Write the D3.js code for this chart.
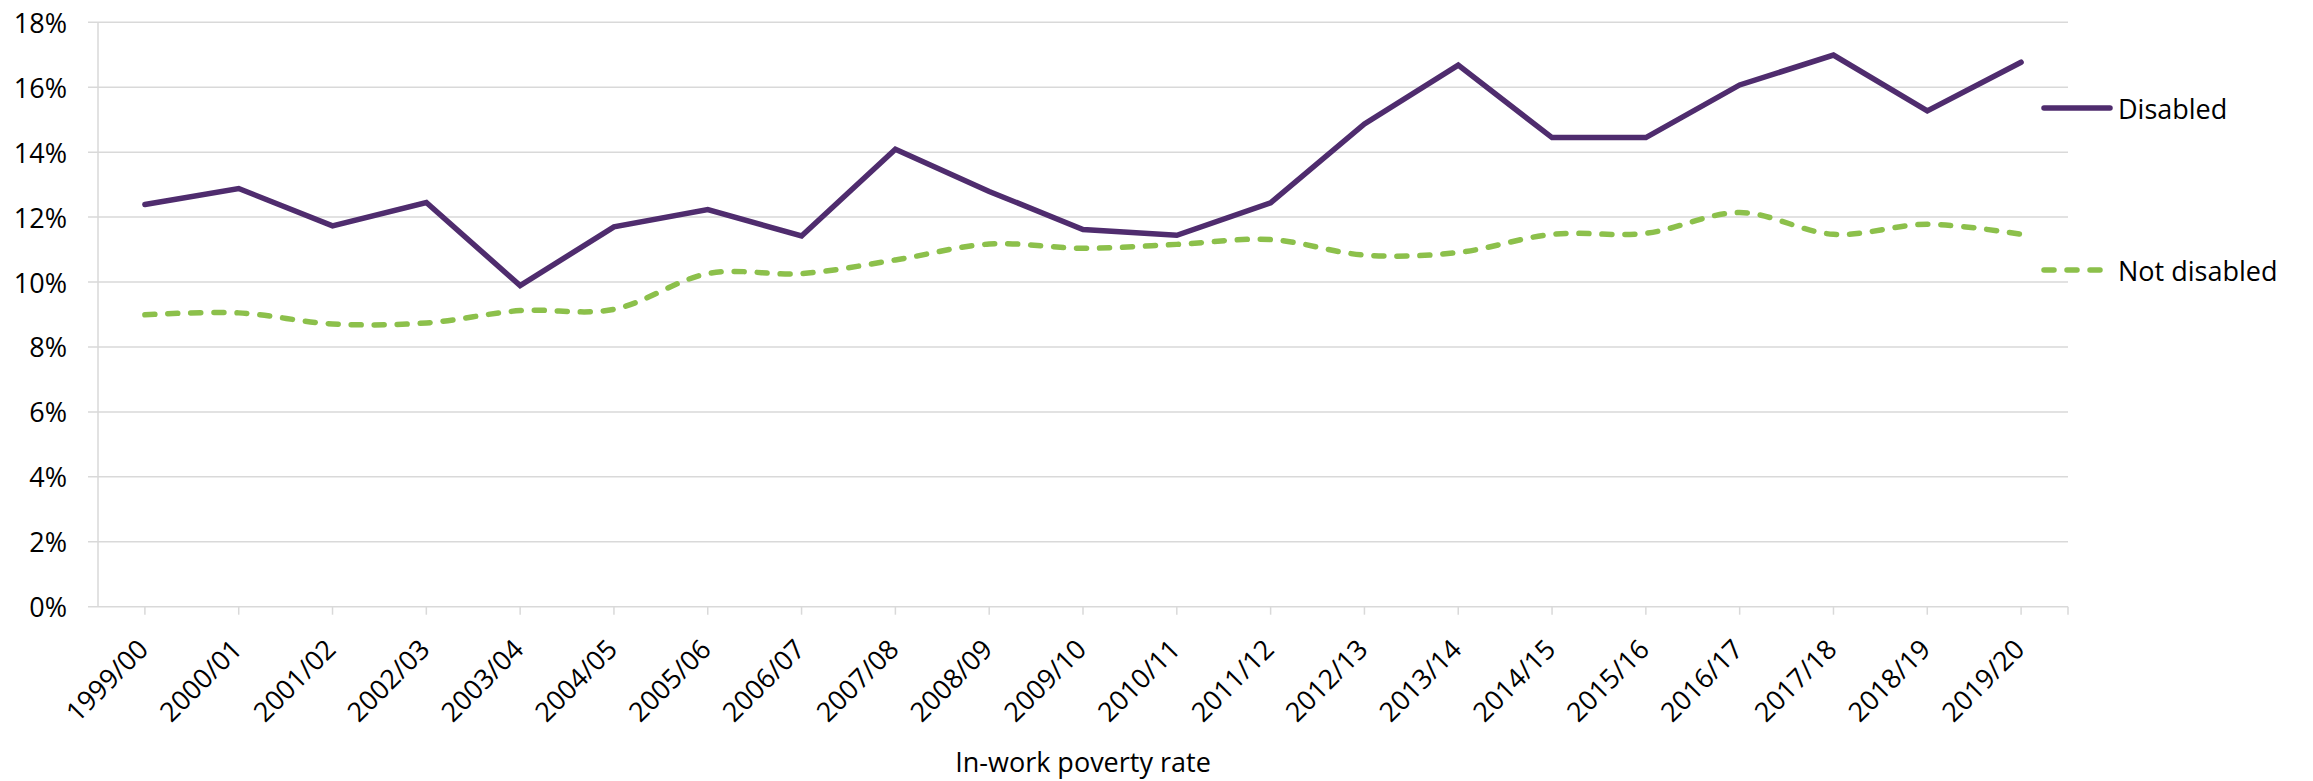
<!DOCTYPE html>
<html>
<head>
<meta charset="utf-8">
<script src="https://cdn.jsdelivr.net/npm/d3@7"></script>
<style>
  html, body { margin: 0; padding: 0; background: #fff; }
  svg text { font-family: "Open Sans", sans-serif; fill: #000; }
</style>
</head>
<body>
<svg id="chart" width="2313" height="781"></svg>
<script>
const categories = ["1999/00","2000/01","2001/02","2002/03","2003/04","2004/05","2005/06","2006/07","2007/08","2008/09","2009/10","2010/11","2011/12","2012/13","2013/14","2014/15","2015/16","2016/17","2017/18","2018/19","2019/20"];
const disabled = [12.39, 12.88, 11.73, 12.45, 9.89, 11.70, 12.23, 11.42, 14.09, 12.79, 11.62, 11.44, 12.44, 14.87, 16.68, 14.45, 14.45, 16.07, 16.99, 15.27, 16.77];
const notDisabled = [8.99, 9.05, 8.71, 8.74, 9.12, 9.16, 10.26, 10.26, 10.68, 11.17, 11.04, 11.16, 11.31, 10.83, 10.91, 11.47, 11.50, 12.14, 11.47, 11.78, 11.47];
const yTicks = [0, 2, 4, 6, 8, 10, 12, 14, 16, 18];
const seriesNames = ["Disabled", "Not disabled"];
const xTitle = "In-work poverty rate";

(function () {
const purple = "#4f2c6e";
const green = "#8cc04b";
const gridColor = "#d9d9d9";
const fontSize = 27;

const svg = d3.select("#chart");
const pLeft = 98, pRight = 2068, pTop = 22.3, pBottom = 606.7;

const x = d3.scaleBand().domain(categories).range([pLeft, pRight]).padding(0);
const y = d3.scaleLinear().domain([0, 18]).range([pBottom, pTop]);
const cx = d => x(d) + x.bandwidth() / 2;

// gridlines
svg.append("g").selectAll("line").data(yTicks).join("line")
  .attr("x1", pLeft - 10).attr("x2", pRight)
  .attr("y1", d => y(d)).attr("y2", d => y(d))
  .attr("stroke", gridColor).attr("stroke-width", 1.5);

// y axis line
svg.append("line").attr("x1", pLeft).attr("x2", pLeft).attr("y1", pTop).attr("y2", pBottom)
  .attr("stroke", gridColor).attr("stroke-width", 1.5);

// x ticks
svg.append("g").selectAll("line").data(categories).join("line")
  .attr("x1", d => cx(d)).attr("x2", d => cx(d))
  .attr("y1", pBottom).attr("y2", pBottom + 8)
  .attr("stroke", gridColor).attr("stroke-width", 1.5);
svg.append("line").attr("x1", pRight).attr("x2", pRight).attr("y1", pBottom).attr("y2", pBottom + 8)
  .attr("stroke", gridColor).attr("stroke-width", 1.5);

// y labels
svg.append("g").selectAll("text").data(yTicks).join("text")
  .attr("x", 67).attr("y", d => y(d))
  .attr("text-anchor", "end").attr("dominant-baseline", "central")
  .attr("font-size", fontSize)
  .text(d => d + "%");

// x labels
svg.append("g").selectAll("text").data(categories).join("text")
  .attr("transform", d => `translate(${cx(d) + 5},${651}) rotate(-45)`)
  .attr("text-anchor", "end")
  .attr("font-size", fontSize)
  .text(d => d);

// x title
svg.append("text")
  .attr("x", (pLeft + pRight) / 2).attr("y", 771.5)
  .attr("text-anchor", "middle").attr("font-size", fontSize)
  .text(xTitle);

// lines
const lineD = d3.line().x((d, i) => cx(categories[i])).y(d => y(d));
const lineS = d3.line().x((d, i) => cx(categories[i])).y(d => y(d)).curve(d3.curveCatmullRom.alpha(0));

svg.append("path").datum(notDisabled).attr("d", lineS)
  .attr("fill", "none").attr("stroke", green).attr("stroke-width", 5.5)
  .attr("stroke-linecap", "round").attr("stroke-dasharray", "10,13");

svg.append("path").datum(disabled).attr("d", lineD)
  .attr("fill", "none").attr("stroke", purple).attr("stroke-width", 5.5)
  .attr("stroke-linejoin", "miter").attr("stroke-linecap", "round");

// legend
const legend = [
  { name: seriesNames[0], color: purple, dash: null, yy: 108 },
  { name: seriesNames[1], color: green, dash: "10,13", yy: 270 }
];
const lg = svg.append("g").selectAll("g").data(legend).join("g");
lg.append("line").attr("x1", 2044).attr("x2", 2110)
  .attr("y1", d => d.yy).attr("y2", d => d.yy)
  .attr("stroke", d => d.color).attr("stroke-width", 5.5)
  .attr("stroke-linecap", "round")
  .attr("stroke-dasharray", d => d.dash);
lg.append("text").attr("x", 2118).attr("y", d => d.yy)
  .attr("dominant-baseline", "central").attr("font-size", fontSize)
  .text(d => d.name);
})();
</script>
</body>
</html>
